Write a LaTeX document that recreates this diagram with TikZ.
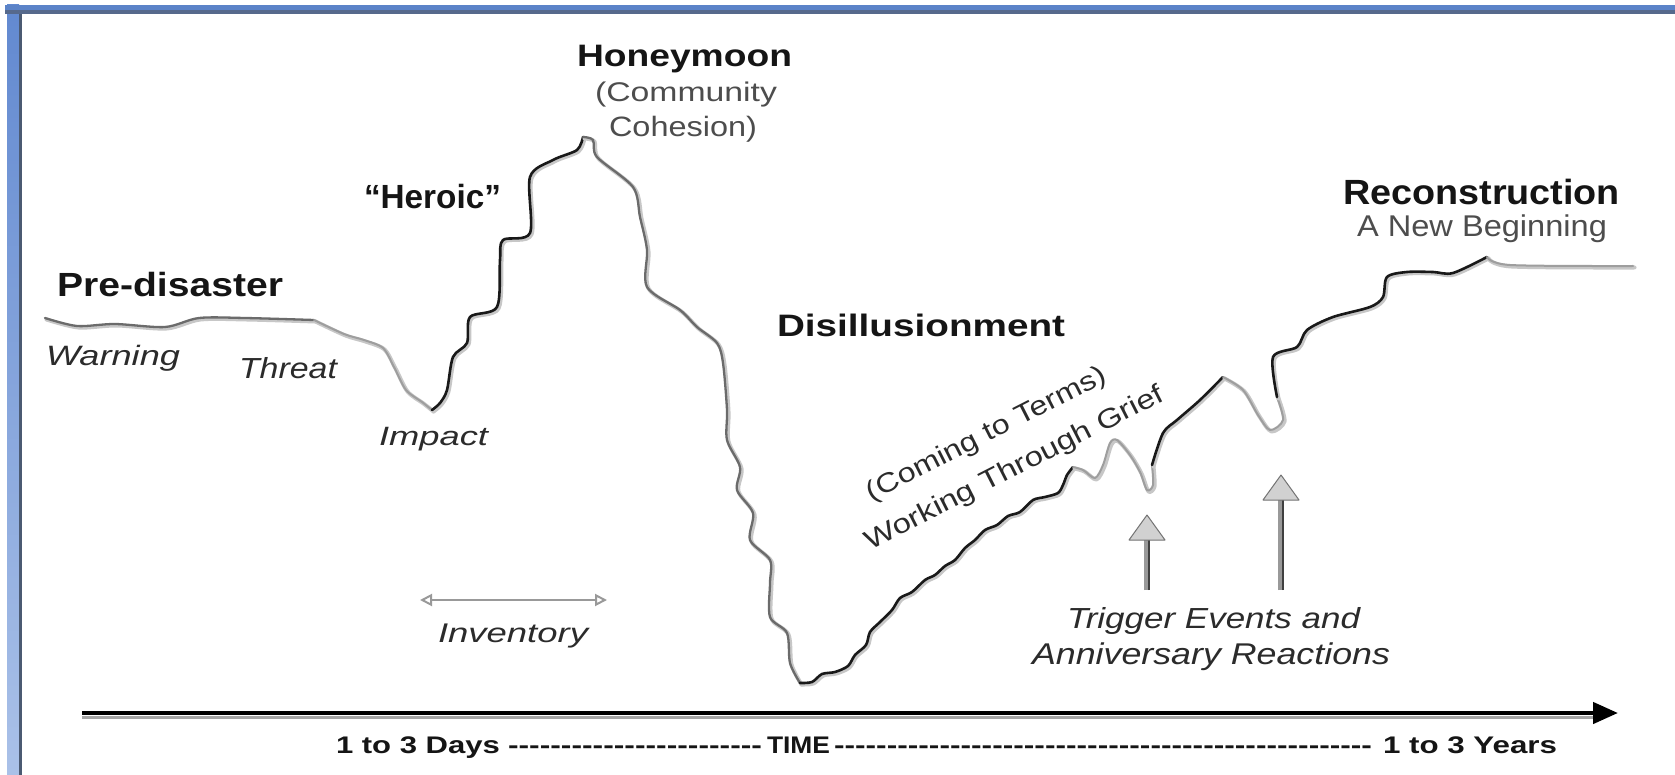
\documentclass[tikz,border=0pt]{standalone}
\usepackage{fontspec}
\setmainfont{Liberation Sans}
\newfontfamily\hyfont{Liberation Sans}
\usepackage{graphicx}
\usetikzlibrary{arrows.meta}
\newcommand{\fitw}[2]{\resizebox{#1}{\height}{#2}}
\newcommand{\fs}[1]{\fontsize{#1}{#1}\selectfont}
\newcommand{\hyrun}[1]{\foreach\i in {1,...,#1}{-}}
\definecolor{barblue}{HTML}{5B83C8}
\definecolor{bardark}{HTML}{56698C}
\definecolor{lefttop}{HTML}{6289D0}
\definecolor{leftlow}{HTML}{AAC1E8}
\definecolor{leftdark}{HTML}{4B5A72}
\definecolor{ink}{HTML}{151515}
\definecolor{subgray}{HTML}{4D4D4D}
\definecolor{italink}{HTML}{2B2B2B}
\newcommand\seg[2]{%
  \draw[cshadow] plot[smooth,tension=0.5] coordinates {#2};
  \draw[#1] plot[smooth,tension=0.5] coordinates {#2};}
\begin{document}
\begin{tikzpicture}[x=1pt,y=-1pt,
  lbl/.style={inner sep=0pt, outer sep=0pt, anchor=base west},
  ttl/.style={lbl, text=ink},
  sub/.style={lbl, text=subgray},
  ita/.style={lbl, text=italink},
  cshadow/.style={black!22, line width=4pt, line cap=round, line join=round, shift={(1.5,1.5)}},
  cbase/.style={line cap=round, line join=round},
  cblack/.style={cbase, black!90, line width=2.6pt},
  cmid/.style={cbase, black!58, line width=2.3pt},
  clight/.style={cbase, black!38, line width=2pt},
  trigshaft/.style={line width=6pt, black!40},
  trighead/.style={fill=black!18, draw=black!55, line width=1pt, line join=round}
]
\useasboundingbox (0,0) rectangle (1675,775);
\fill[white] (0,0) rectangle (1675,775);
% frame
\shade[top color=lefttop, bottom color=leftlow] (7,5) rectangle (19,775);
\fill[leftdark] (19,13) rectangle (22,775);
\fill[barblue] (5,5) rectangle (1675,10);
\fill[bardark] (5,10) rectangle (1675,14);

% curve
\seg{cmid}{(45,318) (77,326) (115,324) (165,327) (199,318) (245,318) (314,320)}
\seg{clight}{(314,320) (344,334) (364,340) (383,348) (394,367) (406,390) (422,402) (432,410)}
\seg{cblack}{(432,410) (440,403) (447,390) (453,357) (467,343) (470,317) (497,307) (500,260) (503,240) (530,233) (530,177) (553,160) (577,150) (583,137)}
\seg{cmid}{(583,137) (593,140) (597,157) (633,187) (640,217) (647,250) (647,287) (680,310) (697,327) (717,343) (723,363) (727,410) (727,440) (740,467) (737,490) (753,513) (750,540) (770,560) (770,583) (770,617) (787,633) (790,663) (800,683)}
\seg{cblack}{(800,683) (812,682) (822,674) (835,672) (848,666) (855,655) (866,645) (870,632) (880,622) (892,610) (900,598) (912,592) (925,580) (935,575) (945,566) (955,560) (965,548) (975,540) (985,530) (997,525) (1008,516) (1020,512) (1033,500) (1045,497) (1058,493) (1063,485) (1067,475) (1073,467)}
\seg{clight}{(1073,467) (1083,470) (1095,478) (1103,465) (1110,443) (1117,440) (1130,455) (1140,472) (1147,490) (1153,485) (1152,465)}
\seg{cblack}{(1152,465) (1163,433) (1177,420) (1200,400) (1223,377)}
\seg{clight}{(1223,377) (1243,390) (1258,415) (1270,430) (1283,420) (1277,397)}
\seg{cblack}{(1277,397) (1273,357) (1297,347) (1307,330) (1333,317) (1370,307) (1383,297) (1387,277) (1407,272) (1433,272) (1453,273) (1487,257)}
\seg{clight}{(1487,257) (1510,265) (1633,266)}

% labels
\node[ttl, font=\fs{33.5}\bfseries] (pre) at (57,297) {\fitw{226pt}{Pre-disaster}};
\node[ita, font=\fs{28}\itshape] (warn) at (46,365) {\fitw{134pt}{Warning}};
\node[ita, font=\fs{29}\itshape] (threat) at (239,378) {\fitw{98pt}{Threat}};
\node[ita, font=\fs{26.5}\itshape] (impact) at (379,445) {\fitw{109pt}{Impact}};
\node[ttl, font=\fs{33.5}\bfseries] (heroic) at (364,209) {\fitw{137pt}{“Heroic”}};
\node[ttl, font=\fs{31}\bfseries] (honey) at (577,67) {\fitw{215pt}{Honeymoon}};
\node[sub, font=\fs{27}] (comm) at (595,102) {\fitw{182pt}{(Community}};
\node[sub, font=\fs{28}] (coh) at (609,137) {\fitw{148pt}{Cohesion)}};
\node[ttl, font=\fs{31}\bfseries] (disill) at (777,337) {\fitw{288pt}{Disillusionment}};
\node[ttl, font=\fs{35}\bfseries] (recon) at (1343,205) {\fitw{277pt}{Reconstruction}};
\node[sub, font=\fs{30}] (newbeg) at (1357,237) {\fitw{250pt}{A New Beginning}};
\node[ita, font=\fs{29}\itshape] (trig) at (1067,628) {\fitw{293pt}{Trigger Events and}};
\node[ita, font=\fs{30}\itshape] (anniv) at (1032,664) {\fitw{358pt}{Anniversary Reactions}};
\node[ita, font=\fs{27}\itshape] (inv) at (438,642) {\fitw{150pt}{Inventory}};
\node[rotate=27, anchor=base, inner sep=0pt, text=italink, font=\fs{27}] (coming) at (990,441) {\fitw{265pt}{(Coming to Terms)}};
\node[rotate=27, anchor=base, inner sep=0pt, text=italink, font=\fs{27}] (working) at (1018,475) {\fitw{331pt}{Working Through Grief}};

% inventory arrow
\coordinate (invL) at (420,600);
\coordinate (invR) at (607,600);
\draw[black!40, line width=2pt, {Triangle[open,length=12pt,width=12pt]}-{Triangle[open,length=12pt,width=12pt]}] (invL) -- (invR);

% trigger arrows
\coordinate (t1b) at (1147,590); \coordinate (t1h) at (1147,540);
\coordinate (t2b) at (1281,590); \coordinate (t2h) at (1281,500);
\draw[trigshaft] (t1b) -- (t1h);
\draw[black!75, line width=2.2pt] ([xshift=2pt]t1b) -- ([xshift=2pt]t1h);
\draw[trighead] ([xshift=-18pt]t1h) -- ([yshift=25pt]t1h) -- ([xshift=18pt]t1h) -- cycle;
\draw[trigshaft] (t2b) -- (t2h);
\draw[black!75, line width=2.2pt] ([xshift=2pt]t2b) -- ([xshift=2pt]t2h);
\draw[trighead] ([xshift=-18pt]t2h) -- ([yshift=25pt]t2h) -- ([xshift=18pt]t2h) -- cycle;

% time axis
\coordinate (ax0) at (82,713);
\coordinate (ax1) at (1618,713);
\draw[black!35, line width=3pt] (82,717.5) -- (1595,717.5);
\draw[black, line width=4.5pt, -{Triangle[length=25pt,width=21pt]}] (ax0) -- (ax1);

% time labels
\node[ttl, font=\fs{24}\bfseries] (days) at (336,753) {\fitw{164pt}{1 to 3 Days}};
\node[ttl, font=\fs{24}\bfseries\hyfont] (dash1) at (508,753) {\fitw{254pt}{\bfseries\hyrun{24}}};
\node[ttl, font=\fs{24}\bfseries] (time) at (767,753) {\fitw{63pt}{TIME}};
\node[ttl, font=\fs{24}\bfseries\hyfont] (dash2) at (834,753) {\fitw{538pt}{\bfseries\hyrun{51}}};
\node[ttl, font=\fs{24}\bfseries] (years) at (1383,753) {\fitw{174pt}{1 to 3 Years}};
\end{tikzpicture}
\end{document}
